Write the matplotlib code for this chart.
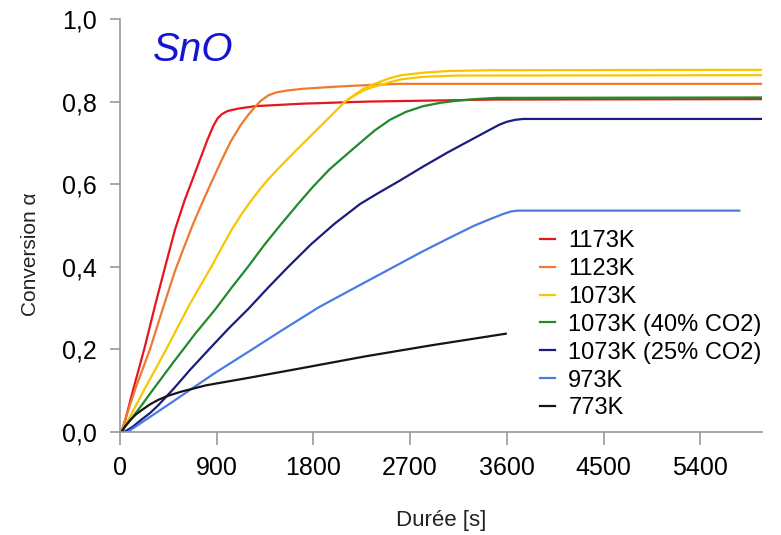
import matplotlib
matplotlib.use("Agg")
import matplotlib.pyplot as plt

#%% DATA
t_1173 = [20, 120, 230, 330, 420, 512, 600, 680, 745, 810, 870, 910, 950, 1000, 1100, 1260, 1700, 2300, 3500, 5970]
a_1173 = [0, 0.1, 0.205, 0.31, 0.4, 0.49, 0.56, 0.615, 0.66, 0.705, 0.742, 0.76, 0.77, 0.777, 0.783, 0.789, 0.795, 0.80, 0.805, 0.806]

t_1123 = [10, 150, 279, 400, 512, 600, 682, 770, 853, 940, 1030, 1120, 1200, 1256, 1310, 1380, 1450, 1560, 1700, 2000, 2300, 2600, 5970]
a_1123 = [0, 0.11, 0.2, 0.3, 0.39, 0.45, 0.505, 0.558, 0.606, 0.655, 0.703, 0.742, 0.77, 0.787, 0.802, 0.815, 0.822, 0.827, 0.831, 0.836, 0.84, 0.843, 0.843]

t_1073 = [10, 110, 220, 330, 430, 540, 640, 750, 850, 950, 1040, 1130, 1220, 1300, 1380, 1500, 1620, 1740, 1860, 1980, 2094, 2180, 2260, 2340, 2420, 2513, 2620, 2823, 3050, 3443, 5970]
a_1073 = [0, 0.045, 0.1, 0.152, 0.2, 0.255, 0.305, 0.355, 0.4, 0.448, 0.49, 0.527, 0.56, 0.587, 0.612, 0.645, 0.677, 0.708, 0.739, 0.77, 0.8, 0.816, 0.83, 0.84, 0.848, 0.857, 0.864, 0.87, 0.874, 0.876, 0.877]

# second yellow trace (no legend entry)
t_1073b = [2094, 2180, 2260, 2340, 2420, 2513, 2620, 2823, 3133, 5970]
a_1073b = [0.8, 0.814, 0.826, 0.834, 0.84, 0.847, 0.854, 0.86, 0.863, 0.864]

t_40co2 = [10, 100, 202, 300, 400, 500, 574, 700, 884, 1040, 1194, 1340, 1489, 1650, 1800, 1950, 2100, 2234, 2370, 2513, 2660, 2823, 2980, 3133, 3300, 3505, 5970]
a_40co2 = [0, 0.03, 0.065, 0.1, 0.135, 0.17, 0.195, 0.238, 0.296, 0.35, 0.401, 0.452, 0.5, 0.55, 0.595, 0.636, 0.67, 0.7, 0.73, 0.756, 0.775, 0.789, 0.797, 0.802, 0.806, 0.809, 0.81]

t_25co2 = [40, 120, 200, 280, 357, 500, 650, 853, 1020, 1194, 1380, 1566, 1780, 2000, 2125, 2234, 2400, 2600, 2823, 3050, 3250, 3443, 3530, 3598, 3680, 3753, 5970]
a_25co2 = [0, 0.013, 0.03, 0.046, 0.065, 0.105, 0.15, 0.207, 0.253, 0.298, 0.35, 0.4, 0.455, 0.505, 0.53, 0.552, 0.578, 0.608, 0.643, 0.677, 0.705, 0.732, 0.744, 0.751, 0.756, 0.758, 0.758]

t_973 = [70, 500, 884, 1200, 1500, 1850, 2234, 2550, 2800, 3050, 3300, 3450, 3567, 3640, 3700, 5764]
a_973 = [0, 0.075, 0.143, 0.195, 0.245, 0.302, 0.356, 0.4, 0.435, 0.468, 0.5, 0.516, 0.528, 0.534, 0.536, 0.536]

t_773 = [15, 50, 100, 150, 202, 280, 357, 450, 574, 800, 1194, 1700, 2280, 2900, 3590]
a_773 = [0, 0.015, 0.03, 0.043, 0.053, 0.067, 0.078, 0.088, 0.098, 0.113, 0.131, 0.155, 0.183, 0.21, 0.238]

x_ticks = [0, 900, 1800, 2700, 3600, 4500, 5400]
y_ticks = [0.0, 0.2, 0.4, 0.6, 0.8, 1.0]
y_ticklabels = ['0,0', '0,2', '0,4', '0,6', '0,8', '1,0']

#%% PLOT
plt.rcParams['font.family'] = ['Liberation Sans', 'DejaVu Sans']

fig = plt.figure(figsize=(7.81, 5.35), dpi=100)
ax = fig.add_axes([120/781, 1-432/535, 642/781, 413/535])

ax.plot(t_1173, a_1173, color='#e5161c', lw=1.6, label='1173K')
ax.plot(t_1123, a_1123, color='#ee7a30', lw=1.6, label='1123K')
ax.plot(t_1073, a_1073, color='#f7c600', lw=1.6, label='1073K')
ax.plot(t_1073b, a_1073b, color='#f7c600', lw=1.6, label='_nolegend_')
ax.plot(t_40co2, a_40co2, color='#218a2b', lw=1.6, label='1073K (40% CO2)')
ax.plot(t_25co2, a_25co2, color='#1c1c80', lw=1.6, label='1073K (25% CO2)')
ax.plot(t_973, a_973, color='#4a7be3', lw=1.6, label='973K')
ax.plot(t_773, a_773, color='#151515', lw=1.6, label='773K')

ax.set_xlim(0, 5975)
ax.set_ylim(0, 1.0)
ax.set_xticks(x_ticks)
ax.set_yticks(y_ticks)
ax.set_yticklabels(y_ticklabels)

for s in ['top', 'right']:
    ax.spines[s].set_visible(False)
for s in ['left', 'bottom']:
    ax.spines[s].set_color('#999999')
    ax.spines[s].set_linewidth(1.2)

ax.tick_params(axis='x', direction='out', length=9, width=1.2, color='#999999',
               labelsize=18, pad=8)
ax.tick_params(axis='y', direction='out', length=7.5, width=1.2, color='#999999',
               labelsize=18, pad=9)

ax.set_xlabel('Durée [s]', fontsize=16, labelpad=22, color='#222222')
ax.set_ylabel('Conversion α', fontsize=15, color='#222222')
ax.yaxis.set_label_coords(-0.124, 0.43)

ax.text(310, 0.925, 'SnO', fontsize=29, style='italic', color='#1414d2', va='center')

ax.legend(loc='upper left', bbox_to_anchor=(540/781, 1-230/535),
          bbox_transform=fig.transFigure, frameon=False, fontsize=17,
          handlelength=0.65, handletextpad=0.55, labelspacing=0.25,
          borderpad=0, borderaxespad=0)

fig.savefig('out.png', dpi=100)
